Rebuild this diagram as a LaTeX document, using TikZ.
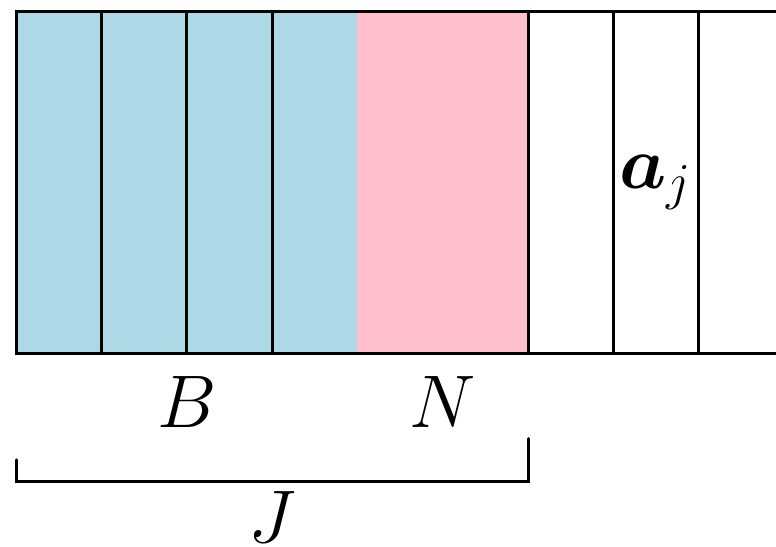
\documentclass[tikz,border=0pt]{standalone}
\usepackage{amsmath,amssymb}
\usepackage{xcolor}
\usetikzlibrary{positioning}

\definecolor{basecol}{HTML}{ADD8E6}
\definecolor{nonbasecol}{HTML}{FFC0CB}

\begin{document}
\begin{tikzpicture}[line width=1pt,
  lbl/.style={font=\fontsize{24}{29}\selectfont}]
\useasboundingbox (-0.1875,-2.262) rectangle (8.906,4.14);
\clip (-0.1875,-2.262) rectangle (8.906,4.14);
% Visual representation
\fill[basecol] (0,0) rectangle (4,4);
\fill[nonbasecol] (4,0) rectangle (6,4);
\draw (9,4) -- (0,4) -- (0,0) -- (9,0);
\foreach \x in {1,2,3,6,7,8}
  \draw (\x,0) -- (\x,4);

\node[lbl] (aj) at (7.5,2) {$\boldsymbol{a}_j$};
\node[lbl] (B) at (2,-0.57) {$B$};
\node[lbl] (N) at (5,-0.57) {$N$};

\coordinate (jl) at (0,-1.25);
\coordinate (jr) at (6,-1);
\draw[line cap=round] (jl) -- (jl |- 0,-1.5) -- (jr |- 0,-1.5) -- (jr);
\node[lbl] (J) at (3,-1.92) {$J$};
\end{tikzpicture}
\end{document}
